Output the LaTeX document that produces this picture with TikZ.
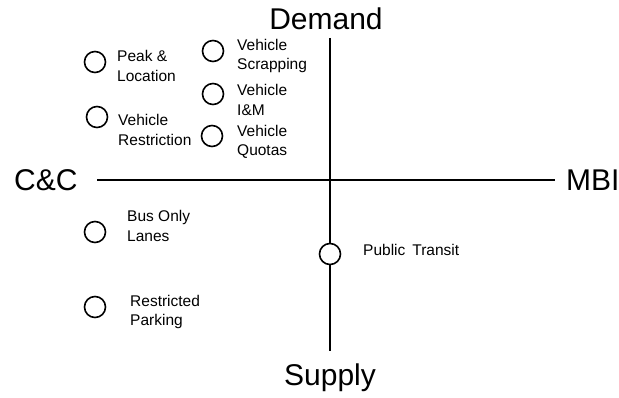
\documentclass[tikz,border=0pt]{standalone}
\usepackage{fontspec}
\setmainfont{Liberation Sans}
\begin{document}
\begin{tikzpicture}[x=1pt,y=-1pt,
  axis/.style={line width=1.3pt},
  opt/.style={circle,draw,line width=1.6pt,minimum size=21pt,inner sep=0pt,fill=white},
  lbl/.style={anchor=west,align=left,font=\fontsize{15.5}{19.5}\selectfont,inner sep=0pt},
  big/.style={font=\fontsize{30}{32}\selectfont,inner sep=0pt}]
\useasboundingbox (0,0) rectangle (619,398);
\node[big] (dem) at (326,19) {Demand};
\node[big] (sup) at (330,378) {Supply};
\node[big,anchor=west] (cc) at (14,180) {C\&C};
\node[big,anchor=west] (mbi) at (566,180) {MBI};
\coordinate (vt) at (330,38);
\coordinate (vb) at (330,351);
\coordinate (hl) at (97,180);
\coordinate (hr) at (555,180);
\draw[axis] (vt) -- (vb);
\draw[axis] (hl) -- (hr);
\node[opt] (c1) at (95,62) {};
\node[lbl] (t1) at (117,66) {Peak \&\\Location};
\node[opt] (c2) at (213,51) {};
\node[lbl] (t2) at (237,56) {Vehicle\\Scrapping};
\node[opt] (c3) at (213,94) {};
\node[lbl] (t3) at (237,100) {Vehicle\\I\&M};
\node[opt] (c4) at (97,117) {};
\node[lbl] (t4) at (118,130) {Vehicle\\Restriction};
\node[opt] (c5) at (212,136) {};
\node[lbl] (t5) at (237,142) {Vehicle\\Quotas};
\node[opt] (c6) at (95,232) {};
\node[lbl] (t6) at (127,226) {Bus Only\\Lanes};
\node[opt] (c7) at (95,307) {};
\node[lbl] (t7) at (130,312) {Restricted\\Parking};
\node[opt] (c8) at (330,254) {};
\node[lbl] (t8) at (363,250) {Public\hspace{7pt}Transit};
\end{tikzpicture}
\end{document}
